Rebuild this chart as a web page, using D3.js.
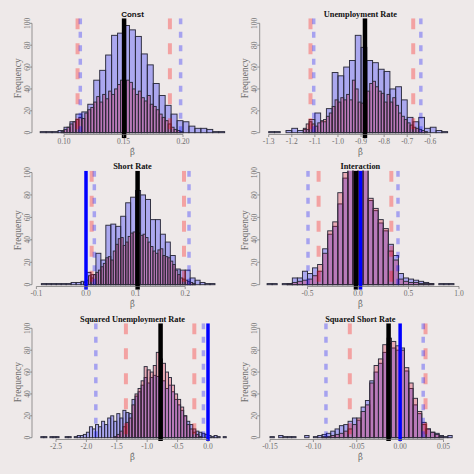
<!DOCTYPE html>
<meta charset="utf-8">
<title>Bootstrap coefficient histograms</title>
<script src="https://d3js.org/d3.v7.min.js"></script>
<style>
body { margin: 0; background: #eee9e9; }
</style>
<div id="chart"></div>
<script>
// ---- data ----
const titles = ["Const", "Unemployment Rate", "Short Rate", "Interaction",
                "Squared Unemployment Rate", "Squared Short Rate"];

// first bin start and bin width, blue and red samples
const blueStart = [0.080, -1.300, -0.090, -0.900, -2.750, -0.150];
const blueWidth = [0.005, 0.025, 0.010, 0.050, 0.050, 0.005];
const redStart  = [0.0975, -1.150, -0.005, -0.900, -1.550, -0.090];
const redWidth  = [0.0025, 0.0125, 0.005, 0.050, 0.050, 0.005];

const constBlue = [1,1,1,2,5,10,17,19,26,48,57,71,89,91,98,94,88,72,62,45,34,25,17,11,10,6,4,4,3,1,1];
const constRed = [1,3,5,8,10,12,14,13,18,21,23,28,33,28,35,31,38,35,40,44,48,40,48,46,40,35,38,32,29,34,26,24,21,17,14,11,8,5,3,2,1];

const unempBlue = [1,1,0,2,4,2,3,12,18,10,22,55,52,60,66,89,78,66,64,58,56,40,42,30,14,10,14,4,5,2,1];
const unempRed = [4,8,10,8,6,9,11,12,15,18,24,30,28,32,30,35,30,48,40,28,27,30,38,45,47,42,38,36,28,35,28,32,25,18,15,12,9,7,5,4,3,2,1];

const shortBlue = [1,1,1,1,1,1,2,2,3,11,9,28,22,53,54,52,61,73,78,84,80,76,58,58,45,38,26,14,13,13,6,4,2,1,1];
const shortRed = [2,4,8,6,9,11,13,16,19,24,25,22,30,36,41,42,35,38,43,46,47,45,46,44,45,42,38,34,30,28,31,32,26,25,24,21,18,13,9,6,5,4,3,2,1];

const interBlue = [1,1,0,1,1,6,6,12,10,15,12,32,45,52,72,95,105,106,104,103,75,66,55,48,36,26,10,6,5,4,3,2,1,0,1,1,1];
const interRed = [0,0,0,0,1,2,3,4,5,8,18,28,48,56,82,100,104,108,108,105,77,68,58,50,30,22,5,3,2,2,1,1,1,0,0,0,0];

const sqUnempBlue = [1,1,0,1,1,1,0,0,1,1,0,1,2,2,3,5,10,8,12,10,15,12,18,20,15,22,18,25,23,22,35,38,42,48,55,50,55,57,56,50,52,45,48,42,35,30,25,20,15,12,8,6,5,4,3,2,1,2,1,0,1];
const sqUnempRed = [1,3,6,10,14,18,30,40,45,52,65,62,60,66,78,72,68,60,55,48,40,35,28,20,12,8,5,3,1];

const sqShortBlue = [1,0,2,1,1,1,0,0,2,0,1,2,3,4,6,8,11,12,15,18,16,28,34,52,60,68,78,86,82,80,82,61,45,30,22,12,8,5,4,2,1,2];
const sqShortRed = [1,1,2,3,4,6,8,12,18,24,30,50,66,72,85,91,88,84,80,64,50,36,24,14,8,5,3,1];

const blueCounts = [constBlue, unempBlue, shortBlue, interBlue, sqUnempBlue, sqShortBlue];
const redCounts = [constRed, unempRed, shortRed, interRed, sqUnempRed, sqShortRed];

// vertical reference lines
const redDash  = [[0.1114, 0.189], [-1.119, -0.674], [0.0114, 0.1976], [-0.39, 0.33], [-1.35, -0.225], [-0.058, 0.0293]];
const blueDot  = [[0.1137, 0.198], [-1.105, -0.641], [0.0168, 0.2077], [-0.495, 0.396], [-1.845, -0.075], [-0.0855, 0.0266]];
const estimate = [0.1505, -0.883, 0.104, -0.02, -0.78, -0.0133];
const zeroLine = [null, null, 0, 0.025, 0, 0];

const xTicks = [
  [0.10, 0.15, 0.20],
  [-1.3, -1.2, -1.1, -1.0, -0.9, -0.8, -0.7, -0.6],
  [-0.1, 0.0, 0.1, 0.2],
  [-0.5, 0.0, 0.5, 1.0],
  [-2.5, -2.0, -1.5, -1.0, -0.5, 0.0],
  [-0.15, -0.10, -0.05, 0.00, 0.05]
];
const xDigits = [2, 1, 1, 1, 1, 2];
const yTicks = [0, 20, 40, 60, 80, 100];

// ---- layout ----
const width = 474, height = 474;
const cols = [[32, 233], [259.7, 461]];
const rows = [
  {top: 18.3, bottom: 138.3, y0: 132.7, y100: 23.3},
  {top: 170.7, bottom: 289.7, y0: 284.7, y100: 172.5},
  {top: 323.3, bottom: 441, y0: 437.7, y100: 328.3}
];
// pixel calibration of x axis: [value a, px a, value b, px b]
const xCal = [
  [0.10, 64, 0.20, 183],
  [-1.3, 268.7, -0.6, 430.3],
  [0.0, 86, 0.2, 185.2],
  [-0.5, 307.5, 1.0, 459],
  [-2.5, 56, 0.0, 208],
  [-0.15, 270, 0.05, 443.5]
];

const bg = "#eee9e9";
const serif = "'Liberation Serif', 'Times New Roman', serif";
const axisCol = "#6e6e6e";

const svg = d3.select("#chart")
  .append("svg")
  .attr("width", width)
  .attr("height", height)
  .style("display", "block")
  .style("background", bg);

function drawHist(g, x, y, start, w, counts, fill) {
  g.append("g")
    .selectAll("rect")
    .data(counts)
    .join("rect")
    .attr("x", (d, i) => x(start + i * w))
    .attr("width", (d, i) => x(start + (i + 1) * w) - x(start + i * w))
    .attr("y", d => y(d))
    .attr("height", d => y(0) - y(d))
    .attr("fill", fill)
    .attr("stroke", "#2c2c3c")
    .attr("stroke-width", 0.95);
}

function vline(g, x, span, v, col, w, dash) {
  const l = g.append("line")
    .attr("x1", x(v)).attr("x2", x(v))
    .attr("y1", span.top).attr("y2", span.bottom)
    .attr("stroke", col)
    .attr("stroke-width", w);
  if (dash) l.attr("stroke-dasharray", dash);
}

titles.forEach(function(title, p) {
  const c = cols[p % 2], r = rows[Math.floor(p / 2)], cal = xCal[p];
  const x = d3.scaleLinear().domain([cal[0], cal[2]]).range([cal[1], cal[3]]);
  const y = d3.scaleLinear().domain([0, 100]).range([r.y0, r.y100]);
  const g = svg.append("g");

  const clipId = "clip" + p;
  g.append("clipPath").attr("id", clipId)
    .append("rect")
    .attr("x", c[0]).attr("y", r.top)
    .attr("width", c[1] - c[0]).attr("height", r.bottom - r.top);
  const plot = g.append("g").attr("clip-path", `url(#${clipId})`);

  // histograms: blue first, red on top
  drawHist(plot, x, y, blueStart[p], blueWidth[p], blueCounts[p], "rgba(0,0,255,0.28)");
  drawHist(plot, x, y, redStart[p], redWidth[p], redCounts[p], "rgba(220,0,40,0.27)");

  // reference lines
  const span = {top: r.top, bottom: r.bottom};
  redDash[p].forEach(v => vline(plot, x, span, v, "rgba(255,0,0,0.3)", 4, "11,14"));
  blueDot[p].forEach(v => vline(plot, x, span, v, "rgba(0,0,255,0.3)", 3.5, "6,7.5"));
  vline(plot, x, span, estimate[p], "#000", 4.5);
  if (zeroLine[p] !== null) vline(plot, x, span, zeroLine[p], "#0000ff", 3.5);

  // x axis
  const axY = r.y0 + 1.8;
  const ticks = xTicks[p];
  g.append("line")
    .attr("x1", x(ticks[0])).attr("x2", x(ticks[ticks.length - 1]))
    .attr("y1", axY).attr("y2", axY)
    .attr("stroke", axisCol).attr("stroke-width", 0.7);
  g.selectAll(".xt").data(ticks).join("line")
    .attr("x1", d => x(d)).attr("x2", d => x(d))
    .attr("y1", axY).attr("y2", axY + 2.5)
    .attr("stroke", axisCol).attr("stroke-width", 0.7);
  g.selectAll(".xl").data(ticks).join("text")
    .attr("x", d => x(d))
    .attr("y", r.y0 + 11.5)
    .attr("text-anchor", "middle")
    .attr("font-family", serif)
    .attr("font-size", 7.5)
    .attr("fill", axisCol)
    .text(d => d.toFixed(xDigits[p]));

  // y axis
  const ax = c[0];
  g.append("line")
    .attr("x1", ax).attr("x2", ax)
    .attr("y1", y(0)).attr("y2", y(100))
    .attr("stroke", axisCol).attr("stroke-width", 0.7);
  g.selectAll(".yt").data(yTicks).join("line")
    .attr("x1", ax).attr("x2", ax - 2.5)
    .attr("y1", d => y(d)).attr("y2", d => y(d))
    .attr("stroke", axisCol).attr("stroke-width", 0.7);
  g.selectAll(".yl").data(yTicks).join("text")
    .attr("transform", d => `translate(${ax - 2.5},${y(d)}) rotate(-90)`)
    .attr("text-anchor", "middle")
    .attr("font-family", serif)
    .attr("font-size", 7.5)
    .attr("fill", axisCol)
    .text(d => d);

  // axis titles
  const midX = (c[0] + c[1]) / 2, midY = (r.top + r.bottom) / 2;
  g.append("text")
    .attr("transform", `translate(${ax - 11.5},${midY}) rotate(-90)`)
    .attr("text-anchor", "middle")
    .attr("font-family", serif)
    .attr("font-size", 9.5)
    .attr("fill", axisCol)
    .text("Frequency");
  g.append("text")
    .attr("x", midX).attr("y", r.y0 + 22)
    .attr("text-anchor", "middle")
    .attr("font-family", "'DejaVu Serif', serif")
    .attr("font-size", 8.5)
    .attr("fill", axisCol)
    .text("β\u0302");

  // panel title
  g.append("text")
    .attr("x", midX).attr("y", r.top - 1.5)
    .attr("text-anchor", "middle")
    .attr("font-family", p === 0 ? "'Liberation Sans', Arial, sans-serif" : serif)
    .attr("font-weight", "bold")
    .attr("font-size", p === 0 ? 8 : 8.3)
    .attr("fill", "#111")
    .text(title);
});
</script>
